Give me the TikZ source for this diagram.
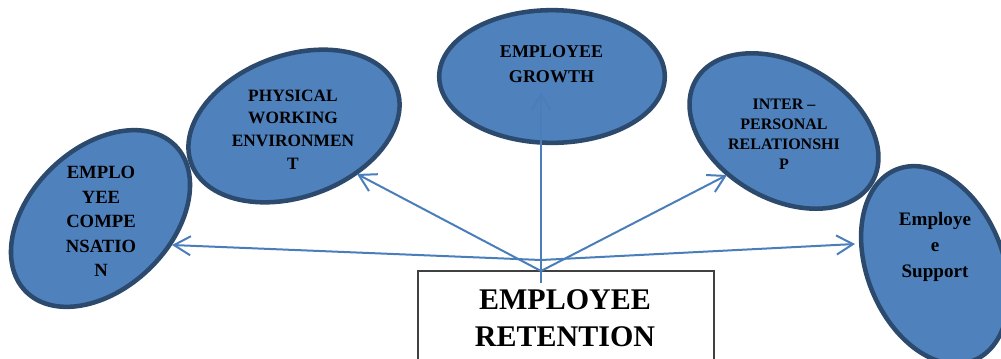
\documentclass[tikz,border=0pt]{standalone}
\usepackage{fontspec}
\setmainfont{Liberation Serif}
\usetikzlibrary{shapes.geometric,arrows.meta}
\definecolor{bubblefill}{HTML}{4F81BD}
\definecolor{bubbleline}{HTML}{2C4A6E}
\definecolor{linkblue}{HTML}{4A7EBB}
\definecolor{boxline}{HTML}{404040}
\begin{document}
\begin{tikzpicture}[x=0.75pt,y=-0.75pt,
  bubble/.style={ellipse, draw=bubbleline, fill=bubblefill, line width=3.4pt,
                 inner sep=0pt, outer sep=0pt},
  lbl/.style={align=center, inner sep=0pt, text=black},
  link/.style={draw=linkblue, line width=1.5pt,
               -{Straight Barb[length=12.4pt,width=14.3pt]}},
  retbox/.style={draw=boxline, line width=1.1pt, inner sep=0pt, outer sep=0pt}]
\useasboundingbox (0,0) rectangle (1001,358);
\clip (0,0) rectangle (1001,358);

% central box
\node[retbox, anchor=north west, minimum width=222pt, minimum height=100pt] (ret) at (418,271) {};
\node[lbl, font=\bfseries\fontsize{22.5}{27.75}\selectfont] (retT) at (565,318) {EMPLOYEE\\RETENTION};

% factor bubbles
\node[bubble, minimum width=156.6pt, minimum height=105.2pt, rotate=44] (comp) at (100.5,218.5) {};
\node[bubble, minimum width=164pt, minimum height=106.2pt, rotate=20] (phys) at (294,126) {};
\node[bubble, minimum width=169.2pt, minimum height=99.5pt] (grow) at (552,76.5) {};
\node[bubble, minimum width=152.7pt, minimum height=101.7pt, rotate=-30] (inter) at (784,131) {};
\node[bubble, minimum width=154.5pt, minimum height=102pt, rotate=-68] (supp) at (935,265) {};

% bubble labels
\node[lbl, font=\bfseries\fontsize{14}{18.4}\selectfont] (compT) at (101,221.7) {EMPLO\\YEE\\COMPE\\NSATIO\\N};
\node[lbl, font=\bfseries\fontsize{13}{17}\selectfont] (physT) at (293,129.5) {PHYSICAL\\WORKING\\ENVIRONMEN\\T};
\node[lbl, font=\bfseries\fontsize{13.5}{18.75}\selectfont] (growT) at (551.5,64) {EMPLOYEE\\GROWTH};
\node[lbl, font=\bfseries\fontsize{12}{15.2}\selectfont] (interT) at (784,134.3) {INTER –\\PERSONAL\\RELATIONSHI\\P};
\node[lbl, font=\bfseries\fontsize{14.3}{19.5}\selectfont] (suppT) at (935,247) {Employe\\e\\Support};

% connector ends
\coordinate (hubA) at (541,260);
\coordinate (hubB) at (541,271);
\coordinate (hubC) at (541,283);
\coordinate (tipComp) at (172,245);
\coordinate (tipPhys) at (357,174);
\coordinate (tipGrow) at (541,92);
\coordinate (tipInter) at (727,175);
\coordinate (tipSupp) at (855,244);

% connectors
\draw[link] (hubA) -- (tipComp);
\draw[link] (hubA) -- (tipSupp);
\draw[link] (hubB) -- (tipPhys);
\draw[link] (hubB) -- (tipInter);
\draw[link] (hubC) -- (tipGrow);
\end{tikzpicture}
\end{document}
